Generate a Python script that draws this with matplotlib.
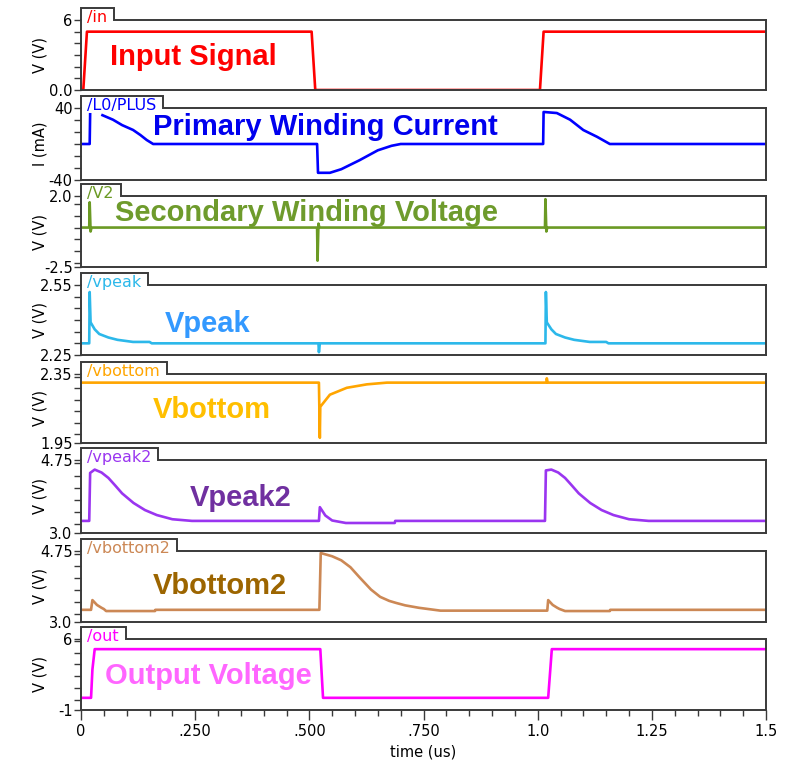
import numpy as np
import matplotlib
matplotlib.use("Agg")
import matplotlib.pyplot as plt
from matplotlib.lines import Line2D
from matplotlib.ticker import MultipleLocator, FixedLocator

nan = np.nan

# /in  - input pulse (V)
t_in = [0, 0.005, 0.013, 0.505, 0.513, 1.005, 1.013, 1.5]
v_in = [0, 0, 5.0, 5.0, 0, 0, 5.0, 5.0]

# /L0/PLUS - primary winding current (mA)
t_ip = [0, 0.019, 0.020, 0.022, 0.047, 0.07, 0.09, 0.114, 0.13, 0.144, 0.158,
        0.517, 0.519, 0.545, 0.57, 0.61, 0.65, 0.68, 0.70,
        1.012, 1.013, 1.042, 1.071, 1.10, 1.13, 1.158, 1.5]
i_ip = [0, 0, 33, nan, 32, 27, 21, 15.6, 10, 4.4, 0,
        0, -32, -32, -28, -18, -7, -2, 0,
        0, 35.6, 34.4, 27, 15.5, 8, 0, 0]

# /V2 - secondary winding voltage (V)
t_v2 = [0, 0.018, 0.019, 0.021, 0.023, 0.517, 0.518, 0.520, 0.522,
        1.016, 1.017, 1.019, 1.021, 1.5]
v_v2 = [0, 0, 1.6, -0.25, 0, 0, -2.1, 0.25, 0,
        0, 1.8, -0.25, 0, 0]

# /vpeak (V)
t_vp = [0, 0.018, 0.019, 0.021, 0.03, 0.04, 0.06, 0.08, 0.114, 0.15, 0.155, 0.52,
        0.521, 0.523, 1.017, 1.018, 1.020, 1.03, 1.04, 1.06, 1.08, 1.114, 1.15, 1.155, 1.5]
v_vp = [2.30, 2.30, 2.52, 2.39, 2.36, 2.34, 2.325, 2.315, 2.306, 2.306, 2.30, 2.30,
        2.262, 2.30, 2.30, 2.52, 2.39, 2.36, 2.34, 2.325, 2.315, 2.306, 2.306, 2.30, 2.30]

# /vbottom (V)
t_vb = [0, 0.521, 0.523, 0.524, 0.545, 0.582, 0.626, 0.67, 1.019, 1.020, 1.022, 1.5]
v_vb = [2.30, 2.30, 1.98, 2.16, 2.23, 2.27, 2.29, 2.30, 2.30, 2.325, 2.30, 2.30]

# /vpeak2 (V)
t_p2 = [0, 0.018, 0.020, 0.03, 0.045, 0.06, 0.074, 0.09, 0.115, 0.14, 0.166, 0.2, 0.243,
        0.521, 0.523, 0.535, 0.55, 0.58, 0.687, 0.688,
        1.016, 1.018, 1.03, 1.045, 1.06, 1.074, 1.09, 1.115, 1.14, 1.166, 1.2, 1.243, 1.5]
v_p2 = [3.29, 3.29, 4.44, 4.52, 4.45, 4.32, 4.15, 3.95, 3.72, 3.55, 3.43, 3.33, 3.29,
        3.29, 3.62, 3.42, 3.30, 3.24, 3.24, 3.29,
        3.29, 4.50, 4.52, 4.45, 4.32, 4.15, 3.95, 3.72, 3.55, 3.43, 3.33, 3.29, 3.29]

# /vbottom2 (V)
t_b2 = [0, 0.022, 0.025, 0.035, 0.045, 0.05, 0.055, 0.162, 0.163,
        0.522, 0.525, 0.55, 0.57, 0.59, 0.61, 0.635, 0.655, 0.675, 0.69, 0.71, 0.74, 0.787,
        1.021, 1.023, 1.033, 1.043, 1.048, 1.06, 1.158, 1.159, 1.5]
v_b2 = [3.30, 3.30, 3.54, 3.42, 3.35, 3.32, 3.27, 3.27, 3.30,
        3.30, 4.70, 4.62, 4.52, 4.35, 4.10, 3.80, 3.62, 3.52, 3.47, 3.41, 3.35, 3.28,
        3.28, 3.54, 3.42, 3.35, 3.32, 3.27, 3.27, 3.30, 3.30]

# /out - output voltage (V)
t_out = [0, 0.022, 0.025, 0.030, 0.524, 0.530, 1.023, 1.031, 1.5]
v_out = [0.2, 0.2, 3.0, 5.0, 5.0, 0.2, 0.2, 5.0, 5.0]

names = ["/in", "/L0/PLUS", "/V2", "/vpeak", "/vbottom", "/vpeak2", "/vbottom2", "/out"]
titles = ["Input Signal", "Primary Winding Current", "Secondary Winding Voltage",
          "Vpeak", "Vbottom", "Vpeak2", "Vbottom2", "Output Voltage"]
units = ["V (V)", "I (mA)", "V (V)", "V (V)", "V (V)", "V (V)", "V (V)", "V (V)"]
ylims = [(0, 6), (-40, 40), (-2.5, 2.0), (2.25, 2.55), (1.95, 2.35), (3.0, 4.75), (3.0, 4.75), (-1, 6)]
ylabels = [("0.0", "6"), ("-40", "40"), ("-2.5", "2.0"), ("2.25", "2.55"), ("1.95", "2.35"),
           ("3.0", "4.75"), ("3.0", "4.75"), ("-1", "6")]
series = [(t_in, v_in), (t_ip, i_ip), (t_v2, v_v2), (t_vp, v_vp),
          (t_vb, v_vb), (t_p2, v_p2), (t_b2, v_b2), (t_out, v_out)]
xticks = [0, 0.25, 0.5, 0.75, 1.0, 1.25, 1.5]
xticklabels = ["0", ".250", ".500", ".750", "1.0", "1.25", "1.5"]

line_colors = ["#ff0000", "#0000ff", "#6b9a24", "#2cb8ea", "#ffa500", "#9a35f0", "#cc8855", "#ff00ff"]
text_colors = ["#ff0000", "#0000ee", "#6e9b2c", "#3399ff", "#ffbf00", "#7030a0", "#9c6500", "#ff66ff"]

# layout in pixels
W, H = 788, 762
left, right = 81, 766
tops = [20, 108, 196, 285, 374, 460, 551, 639]
bottoms = [90, 180, 267, 355, 443, 533, 622, 710]
title_pos = [(0.042, 0.47), (0.105, 0.74), (0.050, 0.76), (0.123, 0.44),
             (0.105, 0.48), (0.159, 0.48), (0.105, 0.51), (0.035, 0.48)]
frame_color = "#3a3a3a"

fig = plt.figure(figsize=(W / 100, H / 100), dpi=100)

axes, tabs = [], []
for k in range(8):
    top, bot = tops[k], bottoms[k]
    ax = fig.add_axes([left / W, 1 - bot / H, (right - left) / W, (bot - top) / H])
    t, v = series[k]
    ax.plot(t, v, color=line_colors[k], lw=1.9)
    lo, hi = ylims[k]
    ax.set_xlim(0, 1.5)
    ax.set_ylim(lo, hi)
    ax.set_yticks([lo, hi])
    ax.set_yticklabels(ylabels[k])
    ax.yaxis.set_minor_locator(MultipleLocator((hi - lo) / 6))
    ax.tick_params(axis="y", which="both", direction="out", length=5, width=1,
                   color=frame_color, labelsize=10.5, pad=1)
    for s in ["left", "right", "bottom"]:
        ax.spines[s].set_color(frame_color)
        ax.spines[s].set_linewidth(1.4)
    ax.spines["top"].set_visible(False)

    if k < 7:
        ax.tick_params(axis="x", which="both", bottom=False, labelbottom=False)
    else:
        ax.xaxis.set_major_locator(FixedLocator(xticks))
        ax.set_xticklabels(xticklabels)
        ax.xaxis.set_minor_locator(MultipleLocator(0.05))
        ax.tick_params(axis="x", which="major", direction="out", length=7, width=1,
                       color=frame_color, labelsize=10.5, pad=3)
        ax.tick_params(axis="x", which="minor", direction="out", length=4, width=1,
                       color=frame_color)
        ax.set_xlabel("time (us)", fontsize=10.5, labelpad=4)

    ax.text(title_pos[k][0], title_pos[k][1], titles[k], transform=ax.transAxes,
            ha="left", va="center", fontsize=21, fontweight="bold",
            family="Liberation Sans", color=text_colors[k])

    fig.text(40 / W, 1 - (top + bot) / 2 / H, units[k],
             rotation=90, ha="center", va="center", fontsize=10.5)

    tab = fig.text((left + 6) / W, 1 - (top + 2) / H, names[k], ha="left",
                   va="baseline", fontsize=11.5, color=line_colors[k])
    axes.append(ax)
    tabs.append(tab)

# tab outlines on top of each panel, sized to their labels
fig.canvas.draw()
renderer = fig.canvas.get_renderer()
for k, tab in enumerate(tabs):
    x1 = tab.get_window_extent(renderer).x1 + 7
    top = H - tops[k]
    xs = np.array([left, left, x1, x1, right]) / W
    ys = np.array([top, top + 12, top + 12, top, top]) / H
    fig.add_artist(Line2D(xs, ys, transform=fig.transFigure, color=frame_color,
                          lw=1.4, solid_joinstyle="miter"))

fig.savefig("out.png", dpi=100)
